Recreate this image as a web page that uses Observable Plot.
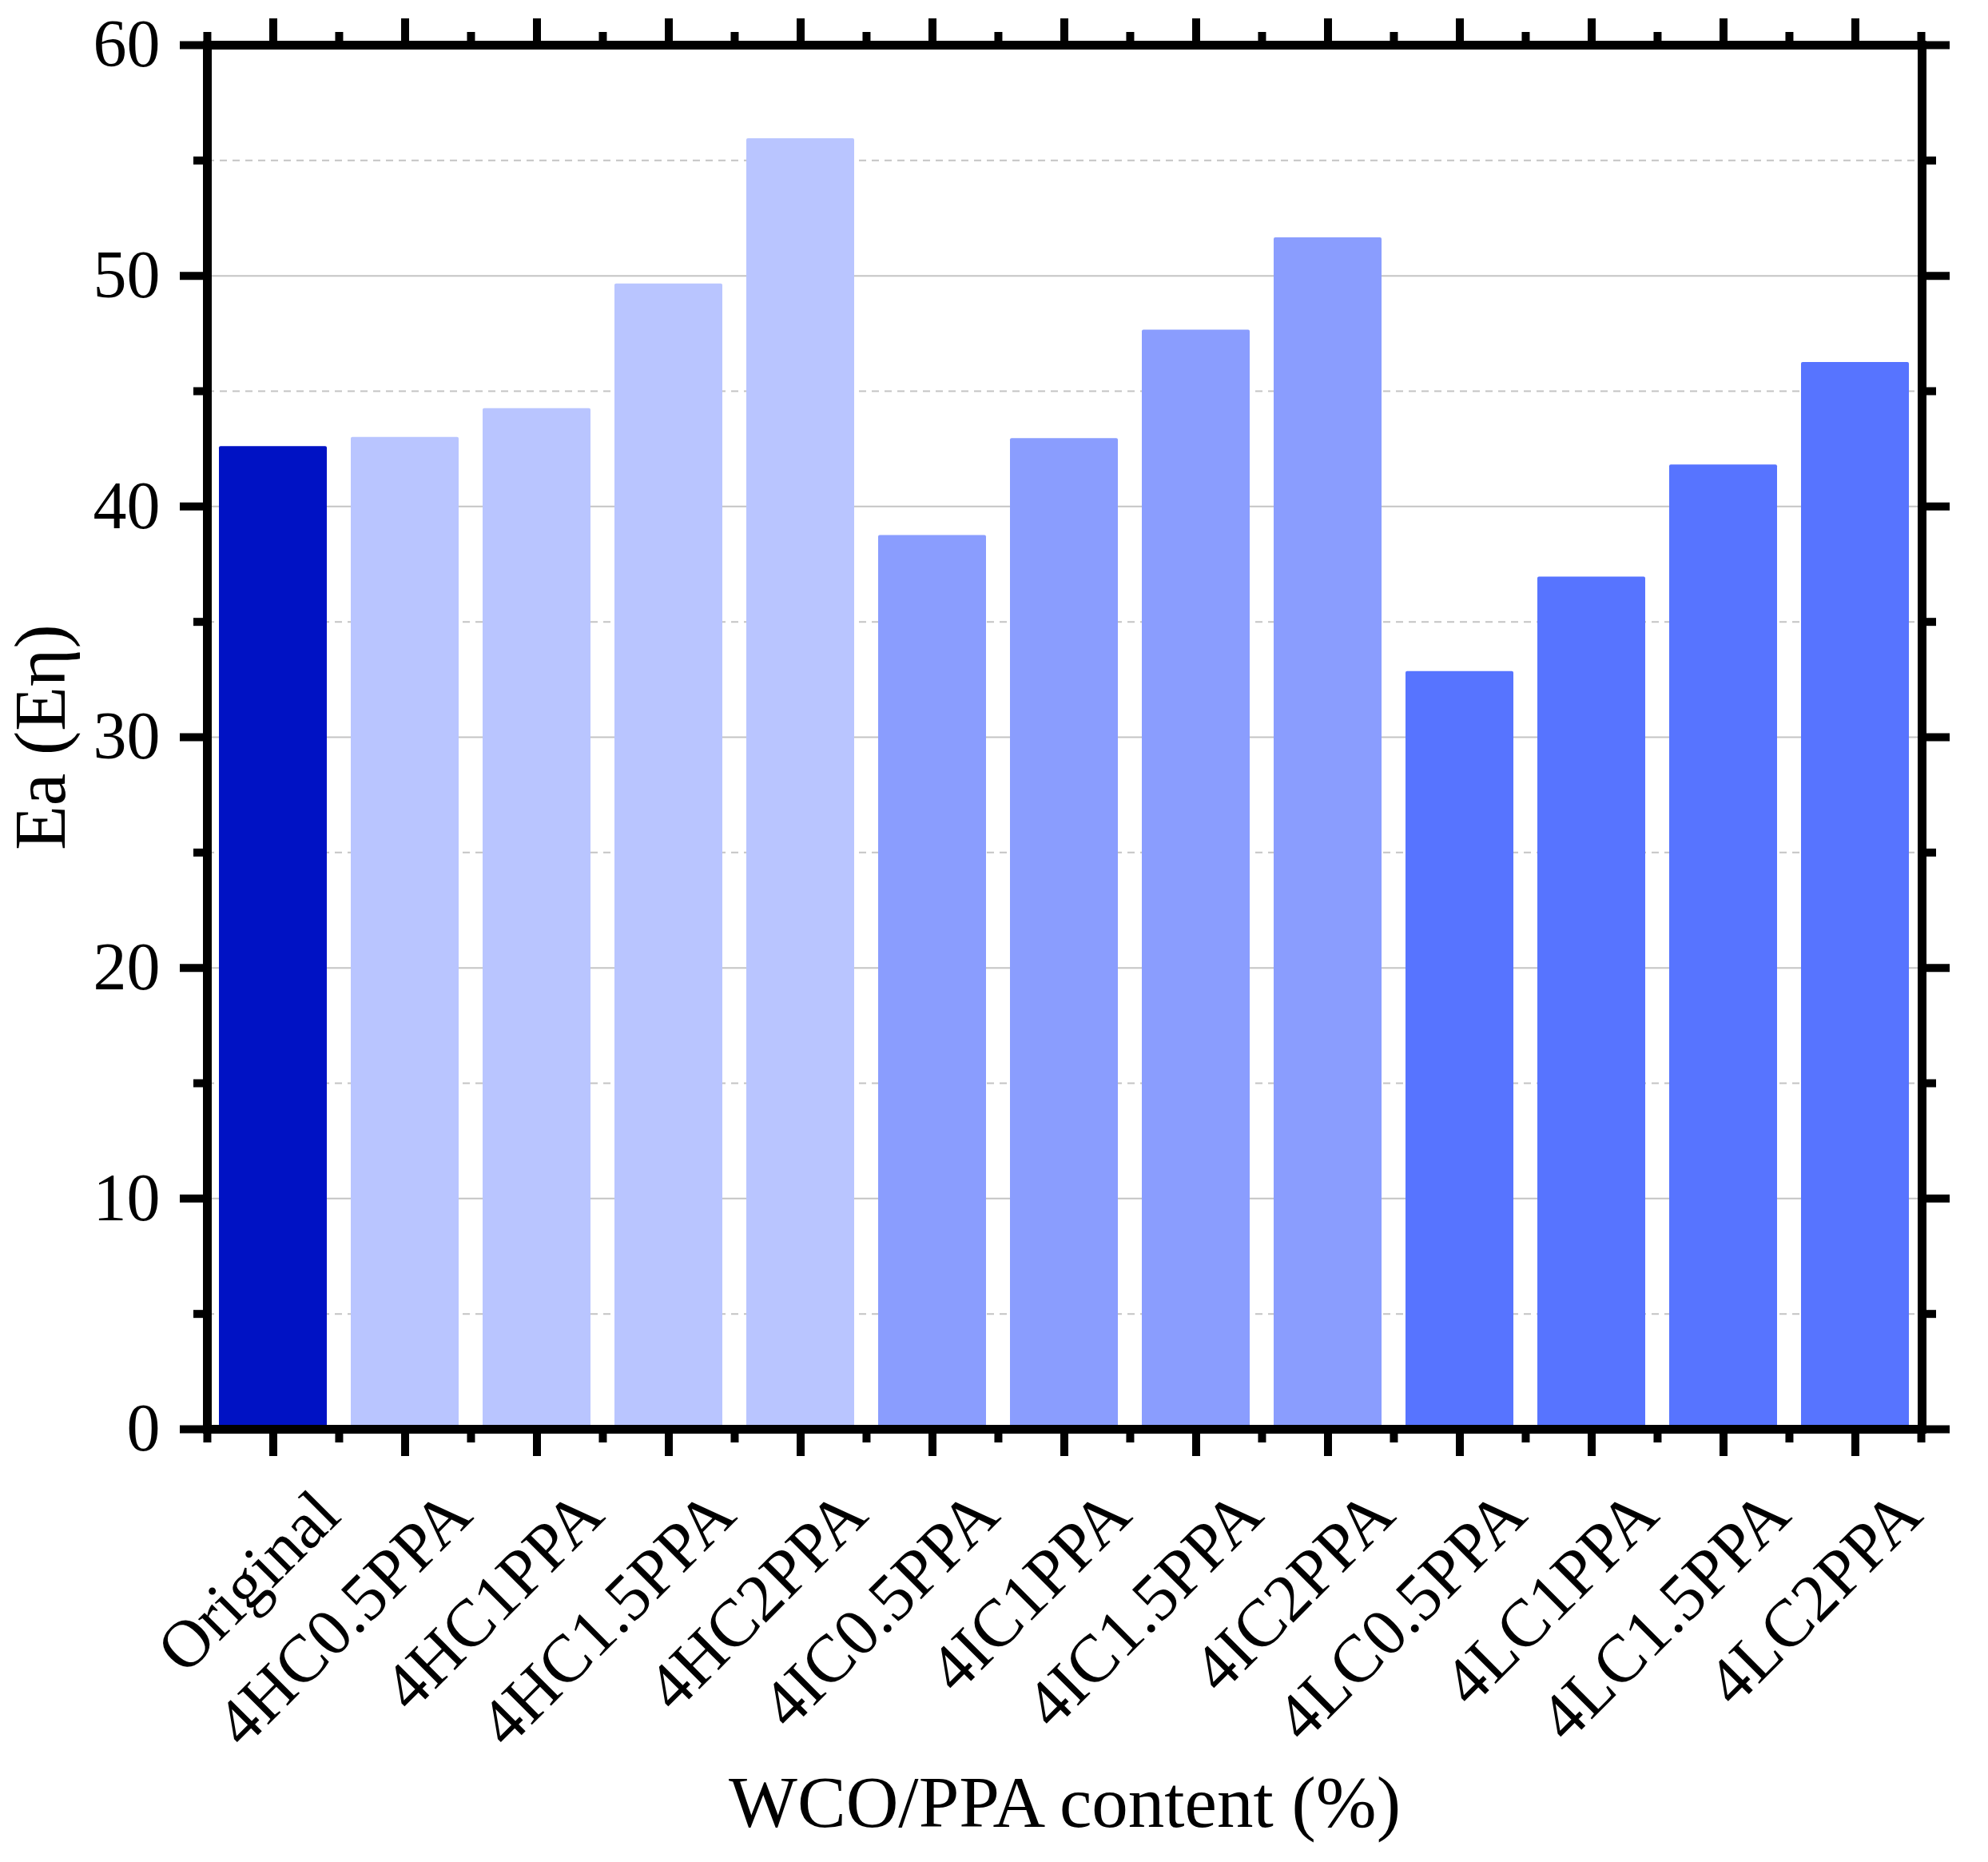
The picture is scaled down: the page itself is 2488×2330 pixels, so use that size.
<!DOCTYPE html>
<html>
<head>
<meta charset="utf-8">
<script src="https://cdn.jsdelivr.net/npm/d3@7"></script>
<script src="https://cdn.jsdelivr.net/npm/@observablehq/plot@0.6"></script>
<style>
  html, body { margin: 0; padding: 0; background: #ffffff; }
  #chart svg { display: block; }
</style>
</head>
<body>
<div id="chart"></div>
<script>
// ---- data ----
const categories = ["Original","4HC0.5PPA","4HC1PPA","4HC1.5PPA","4HC2PPA","4IC0.5PPA","4IC1PPA","4IC1.5PPA","4IC2PPA","4LC0.5PPA","4LC1PPA","4LC1.5PPA","4LC2PPA"];
const values = [42.6, 43.0, 44.25, 49.65, 55.95, 38.75, 42.95, 47.65, 51.65, 32.85, 36.95, 41.8, 46.25];
const groupOf = ["Original","HC","HC","HC","HC","IC","IC","IC","IC","LC","LC","LC","LC"];
const groupNames = ["Original","HC","IC","LC"];
const groupColors = ["#0012c4","#b9c5ff","#8a9dfe","#5774ff"];
const majorYTicks = [0, 10, 20, 30, 40, 50, 60];
const minorYTicks = [5, 15, 25, 35, 45, 55];
const gridYTicks = [10, 20, 30, 40, 50];
const xTitle = "WCO/PPA content (%)";
const yTitle = "Ea (Eη)";

const data = categories.map((name, i) => ({name, value: values[i], group: groupOf[i]}));

// ---- layout ----
const W = 2488, H = 2330;
const ml = 259, mr = 83, mt = 56, mb = 542;
const step = (W - ml - mr) / categories.length;
const last = [categories[categories.length - 1]];
const empty = () => "";
const TW = 10;

const chart = Plot.plot({
  width: W,
  height: H,
  marginLeft: ml,
  marginRight: mr,
  marginTop: mt,
  marginBottom: mb,
  style: {fontFamily: "'Liberation Serif', 'Times New Roman', serif", fontSize: "84px", background: "#ffffff", color: "#000000"},
  x: {domain: categories, paddingInner: 0.18, paddingOuter: 0.09, axis: null, label: null},
  y: {domain: [0, 60], axis: null, label: null},
  color: {domain: groupNames, range: groupColors},
  marks: [
    Plot.gridY(minorYTicks, {stroke: "#c4c4c4", strokeOpacity: 1, strokeWidth: 2, strokeDasharray: "9,7"}),
    Plot.gridY(gridYTicks, {stroke: "#c4c4c4", strokeOpacity: 1, strokeWidth: 2}),
    Plot.barY(data, {x: "name", y: "value", fill: "group", rx: 2}),
    Plot.frame({stroke: "#000000", strokeWidth: 11}),
    // left axis
    Plot.axisY(majorYTicks, {anchor: "left", tickSize: 34, tickPadding: 25, strokeWidth: TW, fontSize: 84, label: null}),
    Plot.axisY(minorYTicks, {anchor: "left", tickSize: 17, strokeWidth: TW, tickFormat: empty, label: null}),
    // right axis
    Plot.axisY(majorYTicks, {anchor: "right", tickSize: 34, strokeWidth: TW, tickFormat: empty, label: null}),
    Plot.axisY(minorYTicks, {anchor: "right", tickSize: 17, strokeWidth: TW, tickFormat: empty, label: null}),
    // bottom axis ticks
    Plot.axisX(categories, {anchor: "bottom", tickSize: 34, strokeWidth: TW, tickFormat: empty, label: null}),
    Plot.axisX(categories, {anchor: "bottom", tickSize: 17, strokeWidth: TW, dx: -step / 2, tickFormat: empty, label: null}),
    Plot.axisX(last, {anchor: "bottom", tickSize: 17, strokeWidth: TW, dx: step / 2, tickFormat: empty, label: null}),
    // top axis ticks
    Plot.axisX(categories, {anchor: "top", tickSize: 34, strokeWidth: TW, tickFormat: empty, label: null}),
    Plot.axisX(categories, {anchor: "top", tickSize: 17, strokeWidth: TW, dx: -step / 2, tickFormat: empty, label: null}),
    Plot.axisX(last, {anchor: "top", tickSize: 17, strokeWidth: TW, dx: step / 2, tickFormat: empty, label: null}),
    // rotated category labels
    Plot.axisX(categories, {anchor: "bottom", tickSize: 0, tickRotate: -45, tickPadding: 69, dx: 45, textAnchor: "end", lineAnchor: "top", fontSize: 84, label: null}),
    // titles
    Plot.text([yTitle], {frameAnchor: "left", rotate: -90, dx: -179, textAnchor: "middle", lineAnchor: "bottom", fontSize: 91}),
    Plot.text([xTitle], {frameAnchor: "bottom", dy: 497, textAnchor: "middle", lineAnchor: "bottom", fontSize: 91})
  ]
});

document.getElementById("chart").appendChild(chart);
</script>
</body>
</html>
